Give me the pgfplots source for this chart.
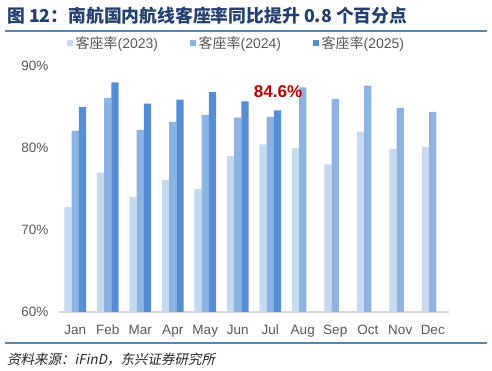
\documentclass[border=0pt]{standalone}
\usepackage{pgfplots}
\pgfplotsset{compat=1.18}
\usepackage{fontspec}
\setmainfont{Liberation Sans}
\newfontfamily\cjk{Noto Sans CJK SC}
\newfontfamily\cjkit[FakeSlant=0.2]{Noto Sans CJK SC}
\definecolor{cA}{HTML}{C6D9F0}
\definecolor{cB}{HTML}{8DB3E2}
\definecolor{cC}{HTML}{558ED5}
\definecolor{titleC}{HTML}{24406E}
\definecolor{ruleC}{HTML}{5B86B3}
\definecolor{tickC}{HTML}{595959}
\definecolor{baseC}{HTML}{D9D9D9}
\definecolor{redC}{HTML}{C00000}
\begin{document}
\begin{tikzpicture}
\useasboundingbox (0,0) rectangle (492bp,371bp);
\node[anchor=west, inner sep=0pt, text=titleC, font=\cjk\bfseries\fontsize{17.8bp}{20bp}\selectfont] at (7bp,355bp) {图 12：南航国内航线客座率同比提升 0.8 个百分点};
\draw[ruleC, line width=1.5bp] (5bp,340bp) -- (487bp,340bp);
\draw[ruleC, line width=1.5bp] (5bp,28bp) -- (487bp,28bp);
\node[anchor=west, inner sep=0pt, text=black!85, font=\cjkit\fontsize{13.5bp}{16bp}\selectfont] at (7bp,11bp) {资料来源：iFinD，东兴证券研究所};
\begin{axis}[
  at={(59bp,59bp)}, anchor=south west,
  scale only axis, width=390bp, height=246bp,
  xmin=-0.5, xmax=11.5, ymin=60, ymax=90,
  enlargelimits=false,
  axis x line*=bottom, axis y line*=left,
  y axis line style={draw=none},
  x axis line style={draw=baseC, line width=1.2bp, -},
  tick style={draw=none},
  xtick={0,...,11},
  xticklabels={Jan,Feb,Mar,Apr,May,Jun,Jul,Aug,Sep,Oct,Nov,Dec},
  ytick={60,70,80,90},
  yticklabel={\pgfmathprintnumber{\tick}\%},
  /pgf/number format/assume math mode=true,
  tick label style={font=\fontsize{13.5bp}{16bp}\selectfont, text=tickC},
  yticklabel style={xshift=-7bp},
  xticklabel style={yshift=-5bp},
  ybar=0pt, bar width=7.3bp,
  legend columns=3,
  legend style={draw=none, fill=none, at={(rel axis cs:0.0205,1.0935)}, anchor=west,
    inner sep=0pt, font=\fontsize{14bp}{16bp}\selectfont, text=tickC,
    nodes={inner sep=0pt, anchor=west},
    /tikz/every odd column/.append style={column sep=2.5bp},
    /tikz/every even column/.append style={column sep=32bp}},
  legend image code/.code={\path[#1, draw=none] (0bp,-3bp) rectangle (6bp,3bp);},
]
\addplot[fill=cA, draw=none] coordinates {(0,72.8) (1,77.0) (2,74.0) (3,76.1) (4,75.0) (5,79.0) (6,80.45) (7,80.0) (8,78.0) (9,82.0) (10,79.9) (11,80.1)};
\addplot[fill=cB, draw=none] coordinates {(0,82.1) (1,86.1) (2,82.2) (3,83.2) (4,84.0) (5,83.7) (6,83.8) (7,87.4) (8,86.0) (9,87.6) (10,84.9) (11,84.4)};
\addplot[fill=cC, draw=none] coordinates {(0,85.0) (1,88.0) (2,85.4) (3,85.9) (4,86.8) (5,85.7) (6,84.6)};
\legend{{\cjk 客座率}(2023),{\cjk 客座率}(2024),{\cjk 客座率}(2025)}
\node[text=redC, font=\bfseries\fontsize{17bp}{20bp}\selectfont] at (axis cs:6.24,86.9) {84.6\%};
\end{axis}
\end{tikzpicture}
\end{document}
